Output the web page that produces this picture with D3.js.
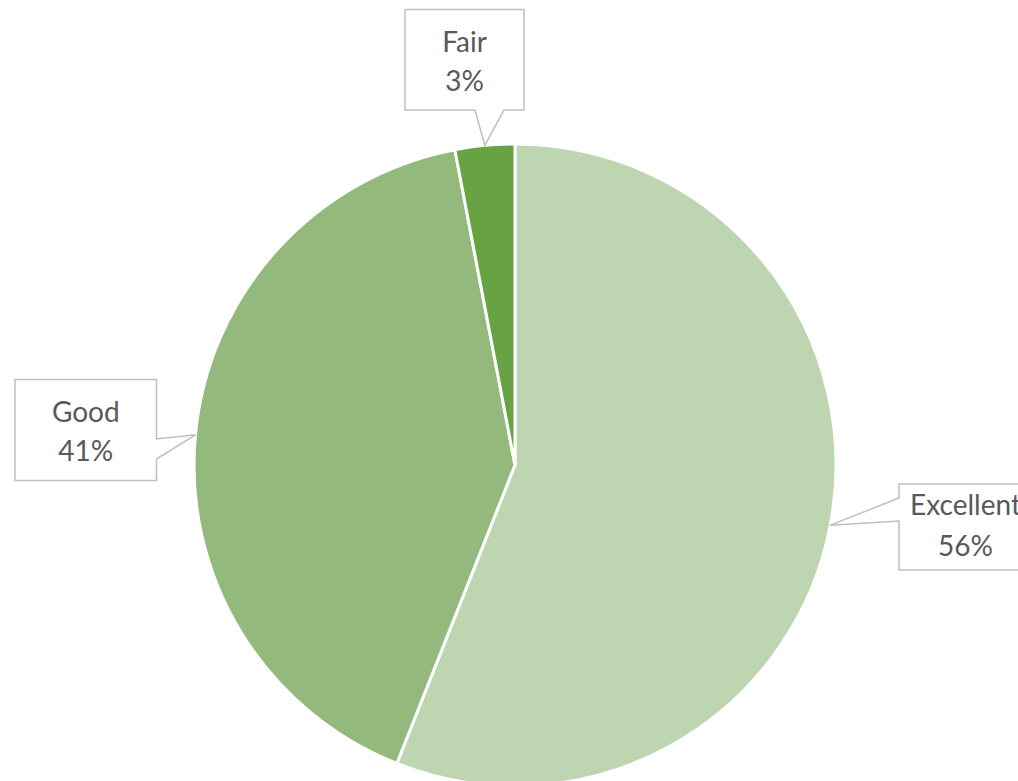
<!DOCTYPE html>
<html>
<head>
<meta charset="utf-8">
<script src="https://cdn.jsdelivr.net/npm/d3@7"></script>
<style>
  html, body { margin: 0; padding: 0; background: #ffffff; overflow: hidden; }
  svg { display: block; }
</style>
</head>
<body>
<svg id="chart" width="1018" height="781"></svg>
<script>
// Rating shares
const categories = ["Excellent", "Good", "Fair"];
const shares = [56, 41, 3];
const colors = ["#bed5b2", "#93ba7c", "#67a342"];

// Callout boxes: position, size, and which side the pointer leaves from
const callouts = [
  { x: 899, y: 484, w: 133, h: 86, side: "left", b1: 498, b2: 521, ty: 515 },
  { x: 15, y: 379.5, w: 141.5, h: 101, side: "right", b1: 439, b2: 459, ty: 421.5 },
  { x: 405, y: 9.5, w: 119, h: 100.5, side: "bottom", b1: 475, b2: 504, ty: 52 }
];

const cx = 515, cy = 465, radius = 321;
const svg = d3.select("#chart");

const pie = d3.pie().sort(null).value(d => d.value);
const arcs = pie(categories.map((c, i) => ({ name: c, value: shares[i], color: colors[i] })));
const arc = d3.arc().innerRadius(0).outerRadius(radius);

const g = svg.append("g").attr("transform", `translate(${cx},${cy})`);
g.selectAll("path.slice")
  .data(arcs)
  .join("path")
  .attr("class", "slice")
  .attr("d", arc)
  .attr("fill", d => d.data.color)
  .attr("stroke", "#ffffff")
  .attr("stroke-width", 3)
  .attr("stroke-linejoin", "round");

// Pointer tip: outer edge of each slice at its mid-angle
function tipOf(d) {
  const a = (d.startAngle + d.endAngle) / 2;
  return [cx + radius * Math.sin(a), cy - radius * Math.cos(a)];
}

function calloutPath(c, tip) {
  const { x, y, w, h } = c;
  const p = d3.path();
  if (c.side === "bottom") {
    p.moveTo(x, y); p.lineTo(x + w, y); p.lineTo(x + w, y + h);
    p.lineTo(c.b2, y + h); p.lineTo(tip[0], tip[1]); p.lineTo(c.b1, y + h);
    p.lineTo(x, y + h); p.closePath();
  } else if (c.side === "right") {
    p.moveTo(x, y); p.lineTo(x + w, y); p.lineTo(x + w, c.b1);
    p.lineTo(tip[0], tip[1]); p.lineTo(x + w, c.b2); p.lineTo(x + w, y + h);
    p.lineTo(x, y + h); p.closePath();
  } else {
    p.moveTo(x, y); p.lineTo(x + w, y); p.lineTo(x + w, y + h);
    p.lineTo(x, y + h); p.lineTo(x, c.b2); p.lineTo(tip[0], tip[1]);
    p.lineTo(x, c.b1); p.closePath();
  }
  return p.toString();
}

const labels = svg.append("g")
  .selectAll("g.callout")
  .data(arcs)
  .join("g")
  .attr("class", "callout");

labels.append("path")
  .attr("d", (d, i) => calloutPath(callouts[i], tipOf(d)))
  .attr("fill", "#ffffff")
  .attr("stroke", "#bfbfbf")
  .attr("stroke-width", 1.5);

const text = labels.append("text")
  .attr("text-anchor", "middle")
  .attr("font-family", "Lato, 'Open Sans', sans-serif")
  .attr("font-size", 28)
  .attr("fill", "#595959");

text.append("tspan")
  .attr("x", (d, i) => callouts[i].x + callouts[i].w / 2)
  .attr("y", (d, i) => callouts[i].ty)
  .text(d => d.data.name);

text.append("tspan")
  .attr("x", (d, i) => callouts[i].x + callouts[i].w / 2)
  .attr("y", (d, i) => callouts[i].ty + (i === 0 ? 41 : 39))
  .text(d => d.data.value + "%");
</script>
</body>
</html>
